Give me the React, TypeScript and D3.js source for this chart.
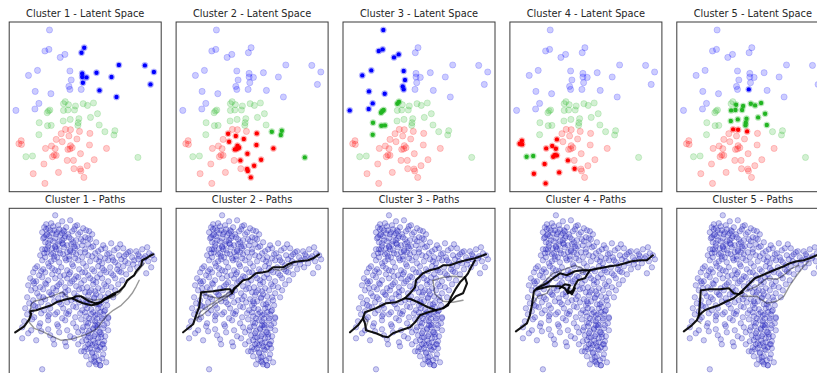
import React from 'react';
import * as d3 from 'd3';

// ---- latent space: [x, y, class] with class 0 = blue, 1 = green, 2 = red ----
type LatentPoint = [number, number, number];

const cluster1: LatentPoint[] = [
  [7.5, 14.4, 0], [7.23, 13.9, 0], [10.97, 12.67, 0], [13.57, 12.63, 0], [14.47, 11.97, 0],
  [7.3, 11.83, 0], [8.73, 11.9, 0], [7.3, 11.47, 0], [7.73, 11.43, 0], [10.23, 11.47, 0],
  [7.37, 10.9, 0], [14.13, 10.73, 0], [9.03, 10.13, 0], [10.73, 9.47, 0],
];

const cluster2: LatentPoint[] = [
  [9.57, 6.0, 1], [10.57, 6.1, 1], [10.47, 5.67, 1], [12.87, 3.43, 1],
  [5.2, 5.8, 2], [5.97, 5.57, 2], [8.07, 5.83, 2], [6.77, 5.27, 2], [5.3, 5.0, 2],
  [6.13, 4.6, 2], [6.3, 4.4, 2], [5.87, 4.23, 2], [6.07, 4.27, 2], [8.03, 4.67, 2],
  [9.73, 4.33, 2], [7.13, 3.8, 2], [8.5, 3.2, 2], [6.43, 3.13, 2], [7.8, 2.6, 2],
  [7.1, 2.27, 2], [7.17, 2.07, 2], [7.47, 1.43, 2],
];

const cluster3: LatentPoint[] = [
  [4.03, 16.17, 0], [3.57, 14.07, 0], [3.97, 14.23, 0], [5.1, 13.43, 0], [5.57, 13.73, 0],
  [2.83, 12.13, 0], [1.93, 11.63, 0], [6.07, 12.07, 0], [6.2, 11.17, 0], [5.97, 10.53, 0],
  [6.07, 10.23, 0], [2.6, 10.03, 0], [4.17, 9.8, 0], [2.97, 8.83, 0], [2.57, 8.27, 0],
  [0.67, 8.13, 0],
  [5.6, 9.0, 1], [5.43, 8.8, 1], [3.93, 8.07, 1], [3.8, 7.9, 1], [4.07, 8.17, 1],
  [3.0, 6.9, 1], [3.83, 6.6, 1], [4.2, 6.63, 1], [2.97, 5.7, 1],
];

const cluster4: LatentPoint[] = [
  [1.67, 3.5, 1], [2.33, 3.57, 1],
  [1.2, 5.1, 2], [0.97, 4.8, 2], [1.23, 4.73, 2], [4.7, 5.23, 2], [4.23, 4.57, 2],
  [3.63, 4.33, 2], [4.6, 4.3, 2], [4.5, 3.67, 2], [4.33, 3.5, 2], [4.7, 3.63, 2],
  [5.8, 3.13, 2], [3.47, 2.77, 2], [6.47, 2.3, 2], [4.93, 1.93, 2], [2.4, 1.8, 2],
  [3.57, 0.83, 2],
];

const cluster5: LatentPoint[] = [
  [7.2, 10.23, 0],
  [5.93, 8.7, 1], [7.4, 8.8, 1], [7.83, 8.63, 1], [8.43, 8.87, 1], [5.43, 8.13, 1],
  [5.87, 8.17, 1], [6.63, 8.57, 1], [6.53, 8.17, 1], [8.83, 7.8, 1], [8.13, 7.43, 1],
  [5.4, 7.07, 1], [6.1, 7.23, 1], [6.97, 7.3, 1], [6.9, 6.9, 1], [6.87, 6.63, 1],
  [9.0, 6.67, 1],
  [5.63, 6.23, 2], [6.13, 6.2, 2], [7.03, 6.03, 2],
];

const clusters = [cluster1, cluster2, cluster3, cluster4, cluster5];
const clusterNames = ['Cluster 1', 'Cluster 2', 'Cluster 3', 'Cluster 4', 'Cluster 5'];
const classColors = ['#0000ff', '#22b522', '#ff0000'];

// ---- path space: sample cloud shared by every path panel ----
const pathCloud: [number, number][] = [
  [4.6,-0.7],[5.3,-1.3],[6.1,-1.2],[4.2,-1.5],[6.8,-1.7],[3.7,-1.6],[4.9,-1.7],
  [3.5,-1.9],[4.1,-2.2],[4.4,-1.8],[5.0,-2.1],[5.7,-1.9],[6.3,-2.3],[6.6,-1.8],[7.4,-2.0],[8.0,-2.3],[3.3,-2.4],[4.8,-2.4],[5.4,-2.2],[7.1,-2.4],
  [3.7,-2.7],[4.3,-2.5],[4.6,-3.0],[5.1,-2.7],[5.9,-2.6],[6.2,-3.1],[6.9,-2.6],[7.6,-2.9],[8.3,-2.6],[3.4,-3.0],[5.5,-3.0],[7.2,-3.1],[8.1,-3.1],
  [3.6,-3.4],[3.9,-3.8],[4.4,-3.3],[4.9,-3.6],[5.3,-3.2],[5.8,-3.7],[6.4,-3.4],[6.8,-3.8],[7.4,-3.3],[7.9,-3.6],[8.7,-3.4],[9.4,-3.7],[10.2,-3.5],[11.1,-3.6],[4.6,-3.8],
  [3.3,-4.1],[3.8,-4.4],[4.3,-4.0],[5.0,-4.2],[5.5,-3.9],[6.1,-4.3],[6.6,-4.0],[7.1,-4.4],[7.6,-4.1],[8.2,-3.9],[8.9,-4.3],[9.6,-4.0],[10.5,-4.2],[11.4,-4.0],[11.9,-4.4],[12.7,-4.3],[13.3,-4.1],[13.8,-3.9],[5.8,-4.4],
  [3.1,-4.7],[3.6,-4.9],[4.2,-4.6],[4.8,-4.9],[5.4,-4.6],[6.0,-4.8],[6.7,-4.6],[7.3,-4.9],[7.9,-4.7],[8.6,-4.5],[9.1,-4.9],[9.8,-4.6],[10.3,-4.9],[11.0,-4.7],[11.7,-4.6],[12.3,-4.9],[12.9,-4.6],[13.6,-4.8],[14.3,-4.7],[5.1,-4.5],
  [3.3,-5.2],[3.9,-5.5],[4.5,-5.1],[5.0,-5.4],[5.7,-5.2],[6.3,-5.6],[6.9,-5.2],[7.4,-5.5],[8.1,-5.3],[8.7,-5.1],[9.3,-5.5],[9.9,-5.2],[10.6,-5.4],[11.2,-5.1],[11.9,-5.5],[12.5,-5.2],[13.2,-5.5],[13.9,-5.3],[14.5,-5.1],[6.0,-5.1],
  [2.8,-5.8],[3.4,-6.1],[4.0,-5.8],[4.6,-6.2],[5.2,-5.9],[5.8,-6.2],[6.4,-5.8],[7.0,-6.1],[7.7,-5.8],[8.3,-6.1],[8.9,-5.8],[9.5,-6.2],[10.1,-5.9],[10.8,-6.1],[11.4,-5.8],[12.1,-6.1],[12.8,-5.9],[14.2,-5.9],
  [2.4,-6.4],[3.0,-6.7],[3.6,-6.4],[4.3,-6.6],[4.9,-6.3],[5.5,-6.7],[6.1,-6.4],[6.7,-6.8],[7.3,-6.4],[7.9,-6.7],[8.5,-6.3],[9.1,-6.6],[9.7,-6.4],[10.4,-6.7],[11.0,-6.3],[11.7,-6.6],[13.7,-6.5],
  [2.1,-7.0],[2.7,-7.3],[3.3,-6.9],[3.9,-7.2],[4.6,-7.0],[5.2,-7.4],[5.8,-7.0],[6.3,-7.3],[6.9,-6.9],[7.5,-7.2],[8.1,-7.0],[8.7,-7.4],[9.3,-7.0],[9.9,-7.3],[10.6,-7.0],[11.3,-7.2],
  [1.9,-7.7],[2.5,-7.5],[3.1,-7.9],[3.7,-7.6],[4.4,-8.0],[5.0,-7.6],[5.6,-7.9],[6.1,-7.5],[6.7,-7.8],[7.2,-7.5],[7.8,-7.9],[8.4,-7.6],[8.9,-8.0],[9.5,-7.6],[10.2,-7.9],[10.9,-7.6],
  [2.2,-8.2],[2.8,-8.5],[3.4,-8.1],[4.0,-8.4],[4.7,-8.2],[5.3,-8.6],[5.9,-8.2],[6.5,-8.5],[7.0,-8.1],[7.6,-8.4],[8.2,-8.2],[8.7,-8.6],[9.3,-8.2],[9.9,-8.5],[10.6,-8.2],
  [1.8,-8.9],[2.4,-9.2],[3.0,-8.8],[3.6,-9.1],[4.3,-8.7],[4.9,-9.0],[5.6,-8.8],[6.2,-9.2],[6.8,-8.8],[7.4,-9.1],[7.9,-8.7],[8.5,-9.0],[9.1,-8.8],[9.7,-9.2],[10.4,-8.9],
  [2.0,-9.5],[2.6,-9.8],[3.2,-9.4],[3.9,-9.7],[4.5,-9.3],[5.2,-9.6],[5.8,-9.4],[6.4,-9.8],[7.0,-9.4],[7.6,-9.7],[8.1,-9.3],[8.7,-9.6],[9.2,-9.4],[9.8,-9.7],
  [1.6,-10.0],[2.2,-10.3],[2.9,-9.9],[3.5,-10.2],[4.1,-10.0],[4.8,-10.4],[5.4,-10.0],[6.0,-10.3],[6.7,-9.9],[7.3,-10.2],[7.8,-10.0],[8.4,-10.4],[8.9,-10.0],[9.5,-10.3],
  [1.8,-10.6],[2.5,-10.9],[3.2,-10.5],[3.9,-10.8],[4.6,-10.6],[5.3,-11.0],[5.9,-10.6],[6.6,-10.9],[7.1,-10.5],[7.7,-10.8],[8.2,-10.6],[8.8,-11.0],[9.4,-10.6],[9.9,-10.9],
  [1.5,-11.3],[2.3,-11.1],[3.1,-11.5],[3.9,-11.2],[4.8,-11.6],[5.6,-11.2],[6.4,-11.5],[7.2,-11.1],[7.7,-11.4],[8.3,-11.2],[8.8,-11.6],[9.3,-11.2],[9.8,-11.5],
  [1.3,-11.9],[2.2,-12.2],[3.0,-11.8],[3.9,-12.1],[4.9,-11.8],[5.8,-12.2],[6.7,-11.9],[7.3,-12.2],[7.8,-11.8],[8.4,-12.1],[8.9,-11.7],[9.4,-12.0],[9.9,-12.2],
  [1.9,-12.5],[3.2,-12.3],[4.1,-12.7],[5.0,-12.4],[6.1,-12.8],[6.9,-12.4],[7.5,-12.7],[8.0,-12.3],[8.6,-12.6],[9.1,-12.4],[9.6,-12.8],
  [1.3,-13.0],[2.7,-13.2],[4.4,-13.1],[5.6,-13.4],[6.5,-13.0],[7.3,-13.3],[7.9,-12.9],[8.4,-13.2],[8.9,-13.0],[9.5,-13.3],
  [4.5,-13.6],[5.7,-13.8],[6.9,-13.6],[7.6,-13.9],[8.1,-13.5],[8.7,-13.8],[9.3,-13.6],
  [7.2,-14.3],[7.8,-14.1],[8.3,-14.5],[8.9,-14.2],[9.4,-14.6],
  [7.7,-14.8],[8.2,-15.1],[8.7,-14.8],[9.3,-15.0],
  [8.0,-15.6],[8.6,-15.4],[9.1,-15.7],[9.7,-15.4],
  [3.3,-16.1],
  // upper blob, denser
  [3.9,-2.0],[4.7,-2.6],[5.3,-2.5],[6.5,-2.1],[7.7,-2.2],[3.5,-2.9],[4.1,-3.2],[5.6,-2.8],[6.7,-3.2],[7.9,-3.0],[3.8,-4.1],[4.7,-4.1],[5.3,-3.5],[6.2,-3.6],[7.3,-3.7],[8.4,-3.8],[3.5,-4.5],[4.5,-4.8],[6.4,-4.4],[7.6,-4.4],[5.6,-5.0],[8.3,-4.8],[4.2,-5.3],[6.6,-5.0],
  [3.7,-2.1],[4.5,-2.2],[5.5,-2.3],[4.0,-2.8],[5.0,-3.3],[6.0,-2.9],[3.9,-3.5],[4.6,-3.9],[5.4,-3.6],[6.5,-3.8],[3.6,-4.1],[4.4,-4.5],[6.1,-4.2],[3.8,-2.6],
  // right arm
  [9.2,-4.1],[10.0,-4.5],[10.8,-4.0],[11.5,-4.8],[12.1,-4.3],[13.0,-4.8],[9.6,-5.0],[10.4,-5.2],[11.6,-5.3],[12.9,-5.1],[13.5,-5.0],[14.0,-4.5],[9.0,-5.3],[10.9,-5.7],[12.4,-5.6],[9.3,-6.0],[11.2,-6.4],[10.2,-6.5],
  // middle band
  [2.6,-6.0],[3.2,-6.3],[4.3,-6.0],[5.1,-6.8],[6.0,-6.6],[7.6,-6.4],[8.8,-6.9],[2.4,-7.3],[3.6,-7.5],[4.8,-7.8],[6.5,-7.1],[8.4,-7.2],[9.7,-7.8],[2.6,-8.0],[4.2,-8.6],[5.6,-8.4],[7.3,-8.0],[8.6,-8.3],[9.6,-8.9],[3.4,-8.9],[5.0,-9.4],[6.6,-9.1],[7.8,-9.5],[2.4,-9.7],[4.0,-10.6],[5.7,-10.5],[7.6,-10.4],[8.6,-10.7],[9.2,-9.9],
  // lower lobe, denser
  [8.0,-11.0],[8.6,-11.3],[9.1,-10.4],[9.5,-11.7],[7.9,-12.5],[8.5,-12.8],[9.2,-12.6],[7.7,-13.2],[8.3,-13.7],[8.9,-13.4],[9.5,-14.0],[7.5,-14.3],[8.5,-14.9],[9.0,-15.2],[8.1,-14.0],[8.8,-11.9],[9.9,-11.0],[7.4,-11.9],[9.4,-13.6],
  [8.0,-8.4],[8.5,-8.9],[9.0,-9.6],[8.2,-10.1],[8.8,-10.6],[9.3,-11.0],[7.9,-11.5],[8.4,-12.0],[9.0,-12.4],[8.1,-12.9],[8.6,-13.5],[9.1,-13.9],[8.3,-14.4],[8.8,-14.1],[9.6,-10.2],[7.7,-9.3],[8.6,-11.7],[9.2,-12.9],[7.9,-13.6],[8.5,-15.3],[9.1,-15.7],[8.7,-15.6],
];

// ---- decoded paths per cluster: bold traces and lighter traces ----
type Trace = [number, number][];

const boldPaths1: Trace[] = [
  [[0.6,-12.4],[1.5,-11.8],[2.0,-11.1],[2.2,-10.6],[2.1,-10.3],[2.7,-10.2],[3.3,-10.0],[4.2,-9.7],[4.7,-9.4],[5.7,-9.1],[6.3,-9.0],[6.7,-8.8],[7.2,-8.8],[7.5,-9.0],[8.0,-9.3],[8.6,-9.5],[9.2,-9.4],[9.6,-9.0],[10.3,-8.6],[11.0,-8.3],[11.5,-7.8],[11.8,-7.2],[12.2,-6.9],[12.5,-6.7],[12.7,-6.3],[13.2,-5.7],[13.3,-5.2],[13.7,-5.0],[14.0,-4.8],[14.4,-4.6]],
  [[6.3,-9.0],[6.9,-9.3],[7.4,-9.5],[8.2,-9.7],[8.8,-9.6],[9.4,-9.2],[10.0,-8.9],[10.6,-8.6]],
];
const lightPaths1: Trace[] = [
  [[2.0,-11.3],[2.1,-10.4],[2.2,-9.6],[2.5,-9.3],[3.3,-9.1],[4.2,-8.8],[5.0,-8.5],[5.4,-8.4],[5.7,-8.8],[6.2,-9.0]],
  [[2.0,-11.4],[2.5,-12.0],[3.3,-12.3],[4.3,-12.8],[5.2,-13.2],[6.2,-13.1],[6.8,-12.9],[7.7,-12.6],[8.3,-12.3],[8.8,-12.0],[9.3,-11.3],[9.8,-10.7],[10.4,-10.2],[11.2,-9.7],[11.9,-9.0],[12.3,-8.5],[12.7,-7.8],[13.0,-7.2]],
  [[7.2,-8.8],[7.8,-9.0],[8.5,-9.2],[9.3,-9.1],[10.0,-9.0],[10.6,-8.8],[11.1,-8.4],[11.6,-7.6],[12.1,-7.0],[12.7,-6.5],[13.1,-6.0],[13.5,-5.5]],
];

const boldPaths2: Trace[] = [
  [[0.7,-12.4],[1.7,-11.6],[1.9,-11.0],[2.1,-10.4],[2.3,-9.9],[2.5,-8.4],[3.7,-8.3],[5.0,-8.1],[5.4,-8.1],[5.6,-8.5],[5.8,-8.0],[6.2,-7.7],[6.7,-7.2],[7.2,-7.1],[7.5,-6.9],[8.0,-6.5],[8.7,-6.4],[9.2,-6.3],[9.7,-5.9],[10.2,-5.9],[10.7,-5.9],[11.2,-5.6],[11.7,-5.4],[12.3,-5.3],[13.2,-5.2],[13.7,-5.0],[14.3,-4.6]],
];
const lightPaths2: Trace[] = [
  [[1.9,-11.0],[2.6,-10.7],[3.3,-10.1],[4.0,-9.5],[4.7,-9.1],[5.2,-8.8],[5.7,-8.3],[6.1,-7.8]],
  [[2.1,-11.2],[2.4,-10.4],[3.0,-9.9],[3.8,-9.4],[4.5,-8.9],[5.0,-8.6],[5.6,-8.2],[6.0,-8.0]],
  [[2.5,-8.4],[3.3,-8.8],[4.2,-9.0],[5.0,-8.8],[5.5,-8.6]],
  [[9.7,-6.1],[10.3,-6.2],[11.0,-6.0],[11.6,-5.6]],
];

const boldPaths3: Trace[] = [
  [[0.7,-12.4],[1.5,-11.7],[2.0,-11.0],[2.2,-10.4],[3.3,-10.0],[4.3,-9.5],[5.3,-9.4],[6.2,-9.0],[6.7,-8.5],[7.2,-7.9],[7.3,-7.2],[8.0,-6.5],[8.7,-6.2],[9.5,-6.0],[10.0,-5.7],[10.7,-5.7],[11.5,-5.4],[12.3,-5.2],[13.2,-5.0],[14.3,-4.6]],
  [[2.0,-11.0],[2.2,-11.5],[2.3,-12.2],[3.3,-12.5],[4.0,-12.8],[4.5,-12.9],[5.0,-12.5],[5.8,-12.2],[6.7,-11.9],[7.2,-11.4],[7.7,-10.7],[8.5,-10.4],[9.3,-10.2],[10.0,-10.0],[10.5,-9.7],[10.8,-8.9],[11.3,-8.0],[11.7,-7.4],[12.2,-6.9],[12.5,-6.5],[12.8,-5.9],[13.2,-5.2]],
  [[6.2,-9.0],[6.8,-9.1],[7.5,-9.4],[8.5,-9.9],[9.3,-10.2]],
  [[10.0,-10.0],[10.7,-9.4],[11.3,-8.8],[12.0,-8.5],[12.4,-7.5],[12.2,-6.9]],
];
const lightPaths3: Trace[] = [
  [[9.0,-7.2],[10.0,-6.9],[11.0,-6.8],[12.2,-6.9]],
  [[12.0,-9.2],[11.0,-9.4],[10.0,-9.3],[9.2,-8.6],[9.0,-7.2]],
  [[2.0,-10.8],[2.5,-11.3],[2.3,-11.9]],
];

const boldPaths4: Trace[] = [
  [[0.6,-12.3],[1.7,-11.5],[2.0,-10.7],[2.2,-9.7],[2.4,-8.3],[2.7,-8.0],[3.7,-7.5],[4.3,-7.0],[5.0,-6.5],[5.7,-6.7],[6.5,-6.3],[7.2,-6.2],[8.0,-6.2],[9.0,-6.0],[10.0,-5.8],[10.8,-5.7],[11.5,-5.5],[12.2,-5.3],[13.0,-5.2],[13.7,-5.2],[14.3,-4.7]],
  [[2.7,-8.1],[4.0,-7.8],[5.0,-7.8],[5.5,-8.0],[5.8,-8.5],[6.3,-8.2],[6.5,-7.7],[6.8,-7.2],[7.5,-7.0],[7.8,-6.5],[8.0,-6.2]],
  [[5.0,-8.0],[5.5,-7.6],[6.0,-7.7],[5.8,-8.2],[6.2,-8.6],[6.5,-8.0]],
];
const lightPaths4: Trace[] = [
  [[2.5,-8.3],[3.3,-7.5],[4.3,-6.5],[5.2,-6.2],[6.5,-5.7],[7.2,-6.0],[7.8,-6.2]],
  [[2.2,-9.7],[2.8,-8.8],[3.7,-8.5],[4.0,-8.0]],
  [[7.0,-6.5],[8.5,-6.0],[10.0,-5.8]],
];

const boldPaths5: Trace[] = [
  [[0.7,-12.3],[1.5,-11.7],[2.0,-11.2],[2.2,-10.7],[2.3,-9.7],[2.4,-8.2],[3.3,-8.1],[4.3,-8.1],[5.2,-8.0],[5.7,-8.5],[6.2,-8.6],[6.6,-8.4]],
  [[2.2,-10.7],[2.8,-10.2],[3.3,-10.0],[4.2,-9.7],[5.0,-9.3],[5.7,-9.0],[6.3,-8.5],[6.8,-8.0],[7.3,-7.5],[7.8,-7.0],[8.3,-6.8],[9.0,-6.5],[9.7,-6.2],[10.2,-6.0],[10.7,-5.8],[11.3,-5.5],[12.0,-5.3],[12.7,-5.2],[13.3,-5.0],[14.0,-4.7],[14.5,-4.5]],
];
const lightPaths5: Trace[] = [
  [[6.3,-8.8],[7.2,-8.8],[8.0,-8.8],[9.0,-9.5],[10.0,-9.3],[10.7,-8.8],[11.3,-7.7],[12.0,-6.7],[12.7,-5.8],[13.2,-5.3]],
  [[7.0,-8.2],[8.0,-7.8],[9.0,-7.0],[10.0,-7.1],[10.8,-6.6],[11.5,-6.0],[12.2,-5.7]],
  [[2.2,-10.8],[2.5,-10.5],[2.0,-11.2],[2.4,-11.5]],
];

const boldPaths = [boldPaths1, boldPaths2, boldPaths3, boldPaths4, boldPaths5];
const lightPaths = [lightPaths1, lightPaths2, lightPaths3, lightPaths4, lightPaths5];

// ---- layout ----
const WIDTH = 817;
const HEIGHT = 373;
const PANEL_W = 152;
const PANEL_H = 169.7;
const PANEL_STEP = 166.9;
const LEFT0 = 9.2;
const TOP_ROW_Y = 22;
const BOTTOM_ROW_Y = 208.3;
const FONT = '"DejaVu Sans", Verdana, sans-serif';

const xLatent = d3.scaleLinear().domain([0, 15.2]).range([0, PANEL_W]);
const yLatent = d3.scaleLinear().domain([0, 16.97]).range([PANEL_H, 0]);
const xPath = d3.scaleLinear().domain([0, 15.2]).range([0, PANEL_W]);
const yPath = d3.scaleLinear().domain([-16.97, 0]).range([PANEL_H, 0]);

const traceLine = d3
  .line<[number, number]>()
  .x((d) => xPath(d[0]))
  .y((d) => yPath(d[1]));

const allLatent: LatentPoint[] = clusters.flat();

function LatentPanel({ index }: { index: number }) {
  const left = LEFT0 + index * PANEL_STEP;
  const clipId = `latent-clip-${index}`;
  return (
    <g transform={`translate(${left},${TOP_ROW_Y})`}>
      <clipPath id={clipId}>
        <rect x={0} y={0} width={PANEL_W} height={PANEL_H} />
      </clipPath>
      <g clipPath={`url(#${clipId})`}>
        {allLatent.map((p, i) => (
          <circle
            key={`f${i}`}
            cx={xLatent(p[0])}
            cy={yLatent(p[1])}
            r={3.1}
            fill={classColors[p[2]]}
            fillOpacity={0.2}
            stroke={classColors[p[2]]}
            strokeOpacity={0.2}
            strokeWidth={0.9}
          />
        ))}
        {clusters[index].map((p, i) => (
          <circle
            key={`h${i}`}
            cx={xLatent(p[0])}
            cy={yLatent(p[1])}
            r={2.2}
            fill={classColors[p[2]]}
          />
        ))}
      </g>
      <rect x={0} y={0} width={PANEL_W} height={PANEL_H} fill="none" stroke="#3a3a3a" strokeWidth={1} />
      <text x={PANEL_W / 2} y={-4.7} textAnchor="middle" fontFamily={FONT} fontSize={9.8} fill="#262626">
        {`${clusterNames[index]} - Latent Space`}
      </text>
    </g>
  );
}

function PathPanel({ index }: { index: number }) {
  const left = LEFT0 + index * PANEL_STEP;
  const clipId = `path-clip-${index}`;
  return (
    <g transform={`translate(${left},${BOTTOM_ROW_Y})`}>
      <clipPath id={clipId}>
        <rect x={0} y={0} width={PANEL_W} height={PANEL_H} />
      </clipPath>
      <g clipPath={`url(#${clipId})`}>
        {pathCloud.map((p, i) => (
          <circle
            key={i}
            cx={xPath(p[0])}
            cy={yPath(p[1])}
            r={2.7}
            fill="#3030cc"
            fillOpacity={0.24}
            stroke="#1c1ca8"
            strokeOpacity={0.42}
            strokeWidth={0.7}
          />
        ))}
        {lightPaths[index].map((t, i) => (
          <path
            key={`l${i}`}
            d={traceLine(t) || ''}
            fill="none"
            stroke="#000"
            strokeOpacity={0.4}
            strokeWidth={1.4}
            strokeLinejoin="round"
            strokeLinecap="round"
          />
        ))}
        {boldPaths[index].map((t, i) => (
          <path
            key={`b${i}`}
            d={traceLine(t) || ''}
            fill="none"
            stroke="#000"
            strokeOpacity={0.92}
            strokeWidth={2.1}
            strokeLinejoin="round"
            strokeLinecap="round"
          />
        ))}
      </g>
      <rect x={0} y={0} width={PANEL_W} height={PANEL_H} fill="none" stroke="#3a3a3a" strokeWidth={1} />
      <text x={PANEL_W / 2} y={-4.9} textAnchor="middle" fontFamily={FONT} fontSize={9.8} fill="#262626">
        {`${clusterNames[index]} - Paths`}
      </text>
    </g>
  );
}

export default function App() {
  return (
    <svg
      width={WIDTH}
      height={HEIGHT}
      viewBox={`0 0 ${WIDTH} ${HEIGHT}`}
      style={{ position: 'absolute', left: 0, top: 0, background: '#fff' }}
    >
      <rect x={0} y={0} width={WIDTH} height={HEIGHT} fill="#fff" />
      {clusters.map((_, i) => (
        <LatentPanel key={`lat${i}`} index={i} />
      ))}
      {clusters.map((_, i) => (
        <PathPanel key={`path${i}`} index={i} />
      ))}
    </svg>
  );
}
